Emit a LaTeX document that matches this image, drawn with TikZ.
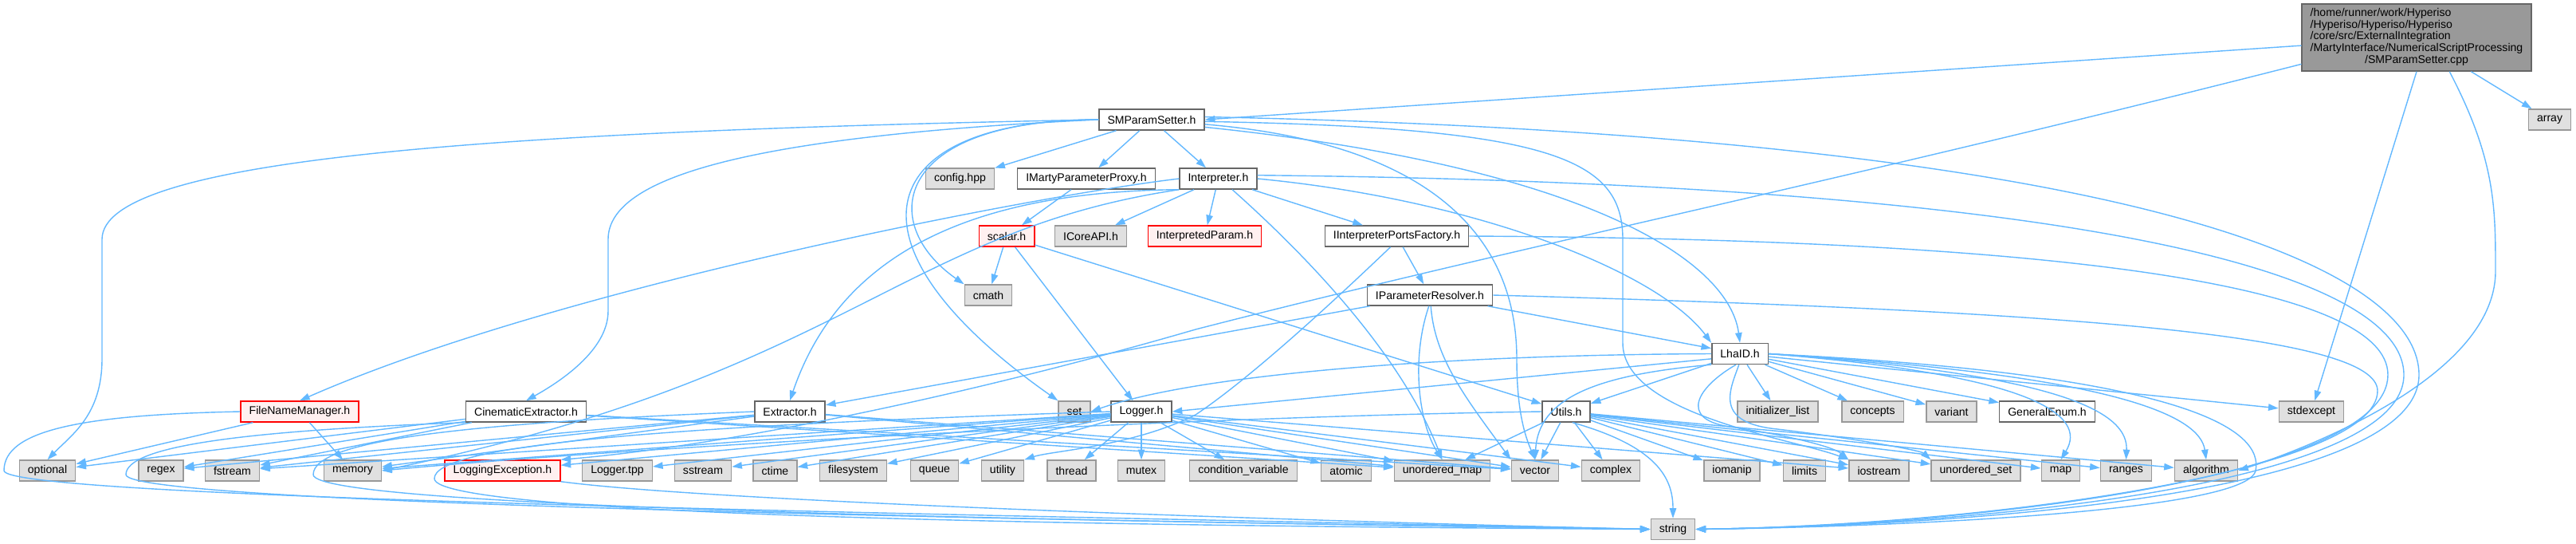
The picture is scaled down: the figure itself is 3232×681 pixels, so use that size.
\documentclass[tikz,border=0pt]{standalone}
\usepackage{fontspec}
\setmainfont{Liberation Sans}
\usetikzlibrary{arrows.meta}
\definecolor{edgeblue}{HTML}{63B8FF}
\definecolor{boxgrey}{HTML}{666666}
\definecolor{sysgrey}{HTML}{999999}
\definecolor{sysfill}{HTML}{E0E0E0}
\definecolor{cutred}{HTML}{FF0000}
\definecolor{cutfill}{HTML}{FFF0F0}
\definecolor{srcfill}{HTML}{999999}
\begin{document}
\begin{tikzpicture}[x=0.01cm,y=-0.01cm,
		box/.style={draw=boxgrey,fill=white,line width=0.4pt,minimum height=0.26cm,inner xsep=3pt,inner ysep=0pt,font=\fontsize{4}{4.2}\selectfont},
		sys/.style={box,draw=sysgrey,fill=sysfill},
		cut/.style={box,draw=cutred,fill=cutfill},
		src/.style={box,fill=srcfill,minimum height=0.84cm},
		dep/.style={draw=edgeblue,line width=0.4pt,-{Triangle[length=3.6pt,width=2.4pt]}}]
		\useasboundingbox (0,0) rectangle (3232,681);
		% files
		\node[src] (root) at (3032,47) {\begin{tabular}{@{}l@{}}/home/runner/work/Hyperiso\\/Hyperiso/Hyperiso/Hyperiso\\/core/src/ExternalIntegration\\/MartyInterface/NumericalScriptProcessing\\\multicolumn{1}{@{}c@{}}{/SMParamSetter.cpp}\end{tabular}};
		\node[box] (smp) at (1445,150) {SMParamSetter.h};
		\node[sys] (arr) at (3199,150) {array};
		\node[sys] (cfg) at (1204.5,224) {config.hpp};
		\node[box] (imp) at (1363,224) {IMartyParameterProxy.h};
		\node[box] (intp) at (1528.5,224) {Interpreter.h};
		\node[cut] (scal) at (1263,296) {scalar.h};
		\node[sys] (icore) at (1368.5,296) {ICoreAPI.h};
		\node[cut] (iparam) at (1511.5,296) {InterpretedParam.h};
		\node[box] (ipf) at (1752.5,296) {IInterpreterPortsFactory.h};
		\node[sys] (cmath) at (1240,370) {cmath};
		\node[box] (ipr) at (1794,370) {IParameterResolver.h};
		\node[box] (lha) at (2183,443.5) {LhaID.h};
		\node[cut] (fnm) at (376,516) {FileNameManager.h};
		\node[box] (cin) at (660,516) {CinematicExtractor.h};
		\node[box] (extr) at (991,516) {Extractor.h};
		\node[sys] (set) at (1348,516) {set};
		\node[box] (lgr) at (1432,516) {Logger.h};
		\node[box] (utl) at (1965,516) {Utils.h};
		\node[sys] (inil) at (2230.5,516) {initializer\_list};
		\node[sys] (conc) at (2349.5,516) {concepts};
		\node[sys] (vari) at (2448.5,516) {variant};
		\node[box] (genum) at (2568.5,516) {GeneralEnum.h};
		\node[sys] (stdx) at (2900,516) {stdexcept};
		\node[sys] (opt) at (59.5,590) {optional};
		\node[sys] (rgx) at (202,590) {regex};
		\node[sys] (fst) at (291.5,590) {fstream};
		\node[sys] (mem) at (442.5,590) {memory};
		\node[cut] (lexc) at (630.5,590) {LoggingException.h};
		\node[sys] (ltpp) at (774.5,590) {Logger.tpp};
		\node[sys] (sst) at (882,590) {sstream};
		\node[sys] (ctm) at (972.5,590) {ctime};
		\node[sys] (fsys) at (1070.5,590) {filesystem};
		\node[sys] (que) at (1172.5,590) {queue};
		\node[sys] (utly) at (1258,590) {utility};
		\node[sys] (thr) at (1344.5,590) {thread};
		\node[sys] (mtx) at (1432,590) {mutex};
		\node[sys] (cvar) at (1560,590) {condition\_variable};
		\node[sys] (atom) at (1689,590) {atomic};
		\node[sys] (umap) at (1809.5,590) {unordered\_map};
		\node[sys] (vec) at (1926,590) {vector};
		\node[sys] (cplx) at (2021,590) {complex};
		\node[sys] (iom) at (2173,590) {iomanip};
		\node[sys] (lim) at (2264,590) {limits};
		\node[sys] (ios) at (2357.5,590) {iostream};
		\node[sys] (uset) at (2479,590) {unordered\_set};
		\node[sys] (map) at (2585.5,590) {map};
		\node[sys] (rng) at (2667.5,590) {ranges};
		\node[sys] (algo) at (2768,590) {algorithm};
		\node[sys] (str) at (2099,663.5) {string};
		% SMParamSetter.cpp
		\draw[dep] (root.184) -- (smp.east);
		\draw[dep] (root.193) .. controls (2300,230) and (1900,310) .. (1500,413) .. controls (1200,500) and (900,560) .. (lexc.north east);
		\draw[dep] (root.south) -- (stdx);
		\draw[dep] (root.-46) .. controls (3131,200) and (3131,260) .. (3131,340) .. controls (3131,470) and (2900,560) .. (algo.east);
		\draw[dep] (root.-32) -- (arr);
		% SMParamSetter.h
		\draw[dep] (smp) -- (cfg);
		\draw[dep] (smp) -- (imp);
		\draw[dep] (smp) -- (intp);
		\draw[dep] (smp.west) .. controls (600,165) and (128,200) .. (128,300) -- (128,450) .. controls (128,520) and (90,545) .. (opt.north);
		\draw[dep] (smp.west) .. controls (950,170) and (763,220) .. (763,300) -- (763,390) .. controls (763,440) and (700,480) .. (cin.north);
		\draw[dep] (smp.west) .. controls (1120,150) and (1100,280) .. (cmath.north west);
		\draw[dep] (smp.west) .. controls (1100,150) and (1040,300) .. (set.north west);
		\draw[dep] (smp.-5) .. controls (1800,180) and (1903,300) .. (1903,450) .. controls (1903,520) and (1915,550) .. (vec.north);
		\draw[dep] (smp.-8) .. controls (2000,210) and (2170,330) .. (lha.north);
		\draw[dep] (smp.-2) .. controls (1950,160) and (2036,200) .. (2036,300) -- (2036,430) .. controls (2036,520) and (2250,550) .. (ios.north west);
		\draw[dep] (smp.3) .. controls (2650,170) and (3035,330) .. (3035,470) .. controls (3035,615) and (2500,658) .. (str.east);
		% Interpreter.h
		\draw[dep] (intp) -- (iparam);
		\draw[dep] (intp) -- (icore);
		\draw[dep] (intp) -- (ipf);
		\draw[dep] (intp.east) .. controls (1850,250) and (2080,340) .. (lha.north west);
		\draw[dep] (intp.5) .. controls (2600,230) and (3016,340) .. (3016,470) .. controls (3016,605) and (2500,658) .. (str.east);
		\draw[dep] (intp.west) .. controls (1300,245) and (700,360) .. (fnm.north);
		\draw[dep] (intp.south west) .. controls (1200,240) and (1050,330) .. (extr.north);
		\draw[dep] (intp.south west) .. controls (1130,290) and (1060,470) .. (mem.east);
		\draw[dep] (intp.-38) .. controls (1650,330) and (1760,450) .. (umap.north);
		% IMartyParameterProxy.h, scalar.h
		\draw[dep] (imp) -- (scal);
		\draw[dep] (scal) -- (cmath);
		\draw[dep] (scal) -- (lgr);
		\draw[dep] (scal) -- (utl);
		% IInterpreterPortsFactory.h
		\draw[dep] (ipf) -- (ipr);
		\draw[dep] (ipf.east) .. controls (2600,300) and (2996,360) .. (2996,470) .. controls (2996,595) and (2500,658) .. (str.east);
		\draw[dep] (ipf.-120) .. controls (1650,400) and (1560,480) .. (1500,520) .. controls (1420,560) and (1320,565) .. (utly.north east);
		% IParameterResolver.h
		\draw[dep] (ipr) -- (lha);
		\draw[dep] (ipr) -- (extr);
		\draw[dep] (ipr.-95) .. controls (1770,450) and (1780,530) .. (umap.north);
		\draw[dep] (ipr.-85) .. controls (1800,450) and (1840,500) .. (vec.north west);
		\draw[dep] (ipr.east) .. controls (2600,390) and (2983,420) .. (2983,490) .. controls (2983,590) and (2500,658) .. (str.east);
		% LhaID.h
		\draw[dep] (lha.west) .. controls (1800,445) and (1500,470) .. (set.east);
		\draw[dep] (lha.190) -- (lgr.east);
		\draw[dep] (lha) -- (utl);
		\draw[dep] (lha.south west) .. controls (2000,470) and (1930,500) .. (vec.north);
		\draw[dep] (lha) -- (inil);
		\draw[dep] (lha) -- (conc);
		\draw[dep] (lha) -- (vari);
		\draw[dep] (lha) -- (genum);
		\draw[dep] (lha) -- (stdx);
		\draw[dep] (lha.east) .. controls (2550,470) and (2620,520) .. (map.north);
		\draw[dep] (lha.east) .. controls (2600,470) and (2670,520) .. (rng.north);
		\draw[dep] (lha.east) .. controls (2650,470) and (2760,520) .. (algo.north);
		\draw[dep] (lha.east) .. controls (2750,470) and (2840,540) .. (2830,590) .. controls (2820,640) and (2400,660) .. (str.east);
		\draw[dep] (lha.-110) .. controls (2130,485) and (2105,525) .. (2170,535) .. controls (2240,545) and (2300,560) .. (ios.north west);
		\draw[dep] (lha.-95) .. controls (2170,490) and (2150,530) .. (2230,538) .. controls (2330,550) and (2410,565) .. (uset.north west);
		% Utils.h
		\draw[dep] (utl) -- (vec);
		\draw[dep] (utl) -- (cplx);
		\draw[dep] (utl) -- (umap);
		\draw[dep] (utl.-60) .. controls (2080,560) and (2099,600) .. (str.north);
		\draw[dep] (utl) -- (iom);
		\draw[dep] (utl) -- (lim);
		\draw[dep] (utl) -- (ios);
		\draw[dep] (utl) -- (uset);
		\draw[dep] (utl) -- (map);
		\draw[dep] (utl) -- (rng);
		\draw[dep] (utl) -- (algo);
		\draw[dep] (utl.west) .. controls (1500,522) and (800,560) .. (mem.east);
		% Logger.h
		\draw[dep] (lgr) -- (lexc);
		\draw[dep] (lgr) -- (ltpp);
		\draw[dep] (lgr) -- (sst);
		\draw[dep] (lgr) -- (ctm);
		\draw[dep] (lgr) -- (fsys);
		\draw[dep] (lgr) -- (que);
		\draw[dep] (lgr) -- (thr);
		\draw[dep] (lgr) -- (mtx);
		\draw[dep] (lgr) -- (cvar);
		\draw[dep] (lgr) -- (atom);
		\draw[dep] (lgr) -- (umap);
		\draw[dep] (lgr) -- (vec);
		\draw[dep] (lgr) -- (cplx);
		\draw[dep] (lgr) -- (ios);
		\draw[dep] (lgr) -- (mem);
		\draw[dep] (lgr) -- (fst);
		\draw[dep] (lgr.west) .. controls (800,535) and (545,560) .. (545,600) .. controls (545,650) and (1500,660) .. (str.west);
		\draw[dep] (lexc.south east) .. controls (900,630) and (1700,655) .. (str.west);
		% extractors and file names
		\draw[dep] (fnm) -- (opt);
		\draw[dep] (fnm) -- (mem);
		\draw[dep] (fnm.west) .. controls (100,520) and (5,540) .. (5,590) .. controls (5,625) and (1200,645) .. (str.west);
		\draw[dep] (cin) -- (opt);
		\draw[dep] (cin) -- (rgx);
		\draw[dep] (cin) -- (fst);
		\draw[dep] (cin) -- (umap);
		\draw[dep] (cin) -- (vec);
		\draw[dep] (cin.south west) .. controls (300,540) and (158,560) .. (158,595) .. controls (158,635) and (1500,655) .. (str.west);
		\draw[dep] (extr) -- (rgx);
		\draw[dep] (extr) -- (fst);
		\draw[dep] (extr) -- (mem);
		\draw[dep] (extr) -- (umap);
		\draw[dep] (extr) -- (vec);
		\draw[dep] (extr.west) .. controls (600,530) and (393,550) .. (393,595) .. controls (393,640) and (1500,655) .. (str.west);
\end{tikzpicture}
\end{document}
